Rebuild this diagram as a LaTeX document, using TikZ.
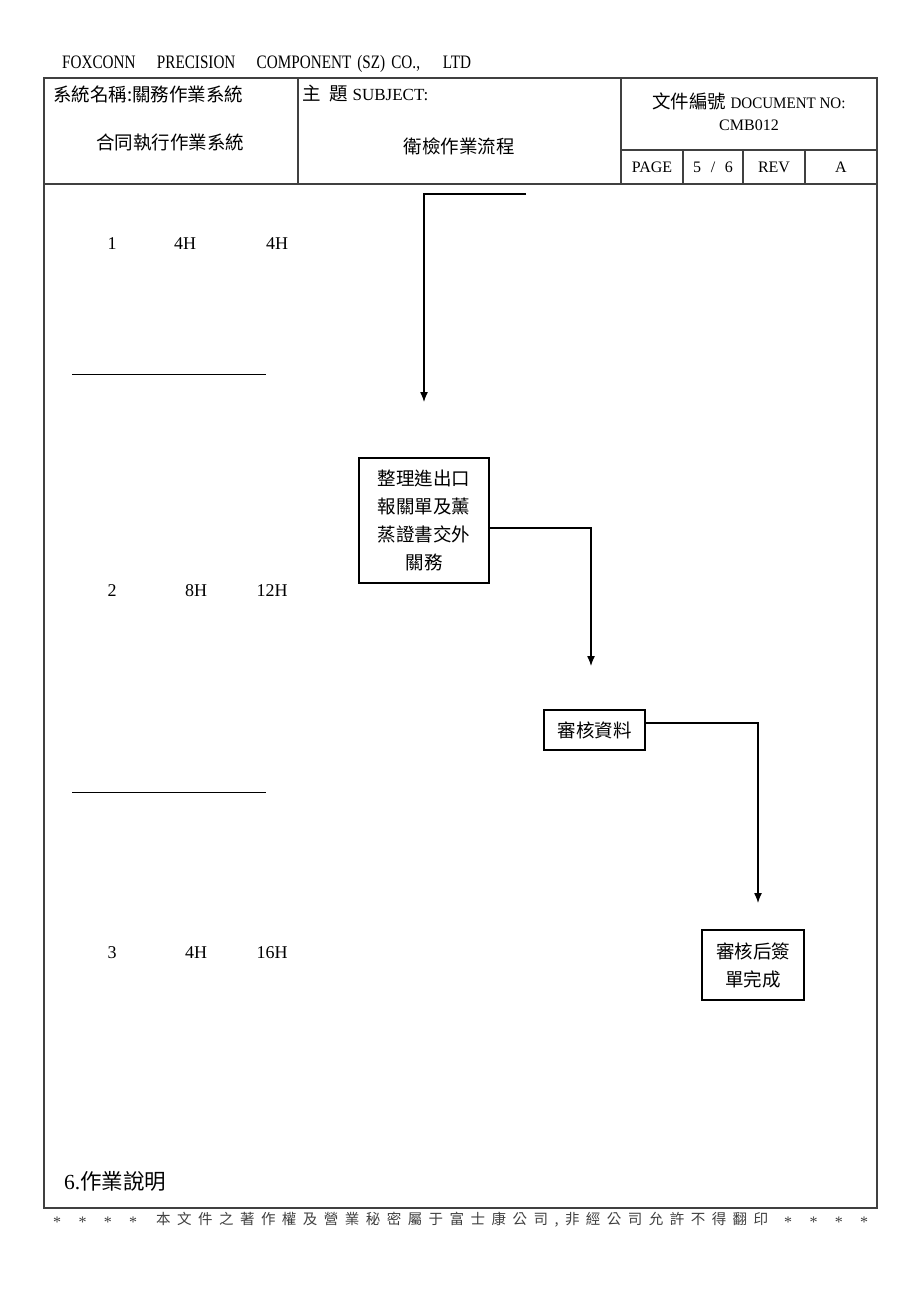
\documentclass[tikz,border=0pt]{standalone}
\usepackage{fontspec}
\setmainfont{Liberation Serif}
\newfontfamily\cjk{Noto Sans CJK TC}
\usetikzlibrary{arrows.meta}
\tikzset{
  frame/.style={draw=black!75, line width=1.2pt},
  flowbox/.style={draw=black, line width=1.2pt, inner sep=0pt, align=center, font=\cjk\fontsize{18.5}{28}\selectfont},
  conn/.style={draw=black, line width=1.3pt},
  arr/.style={conn, -{Latex[length=10pt,width=8pt]}},
  hdr/.style={font=\fontsize{16}{19}\selectfont, inner sep=0pt},
  hdrc/.style={font=\cjk\fontsize{18.5}{20}\selectfont, inner sep=0pt},
  lbl/.style={font=\fontsize{18}{20}\selectfont, inner sep=0pt},
  foot/.style={anchor=west, inner sep=0pt, text=black!75},
}
\begin{document}
\begin{tikzpicture}[x=1pt,y=-1pt]
\useasboundingbox (0,0) rectangle (920,1302);
\fill[white] (0,0) rectangle (920,1302);
% header line
\node[anchor=west, inner sep=0pt] (company) at (62,64) {\scalebox{0.8}[1]{\fontsize{19}{22}\selectfont FOXCONN\hspace{1.4em}PRECISION\hspace{1.4em}COMPONENT\hspace{0.4em}(SZ)\hspace{0.4em}CO.,\hspace{1.5em}LTD}};
% frame and title block
\draw[frame] (44,78) rectangle (877,1208);
\draw[frame] (44,184) -- (877,184);
\draw[frame] (298,78) -- (298,184);
\draw[frame] (621,78) -- (621,184);
\draw[frame] (621,150) -- (877,150);
\draw[frame] (683,150) -- (683,184);
\draw[frame] (743,150) -- (743,184);
\draw[frame] (805,150) -- (805,184);
\node[hdrc, anchor=west] (sysname) at (53,94) {系統名稱:關務作業系統};
\node[hdrc] (sysname2) at (170,142) {合同執行作業系統};
\node[hdrc, anchor=west] (subj) at (302,94) {主\hspace{0.5em}題 {\fontsize{17}{19}\rmfamily SUBJECT:}};
\node[hdrc] (subj2) at (459,146) {衛檢作業流程};
\node[hdrc] (docno) at (749,101) {文件編號 {\fontsize{16}{19}\rmfamily\scalebox{0.94}[1]{DOCUMENT NO:}}};
\node[hdr] (docno2) at (749,125) {CMB012};
\node[hdr] (page) at (652,167) {PAGE};
\node[hdr] (pnum) at (713,167) {5\hspace{0.6em}/\hspace{0.6em}6};
\node[hdr] (rev) at (774,167) {REV};
\node[hdr] (reva) at (841,167) {A};
% row labels
\node[lbl] (r1a) at (112,244) {1};
\node[lbl] (r1b) at (185,244) {4H};
\node[lbl] (r1c) at (277,244) {4H};
\node[lbl] (r2a) at (112,591) {2};
\node[lbl] (r2b) at (196,591) {8H};
\node[lbl] (r2c) at (272,591) {12H};
\node[lbl] (r3a) at (112,953) {3};
\node[lbl] (r3b) at (196,953) {4H};
\node[lbl] (r3c) at (272,953) {16H};
\draw[line width=1pt] (72,374) -- (266,374);
\draw[line width=1pt] (72,792) -- (266,792);
% flow
\coordinate (s0) at (526,194);
\coordinate (t0) at (424,402);
\draw[arr] (s0) -- (s0 -| t0) -- (t0);
\node[flowbox, minimum width=130pt, minimum height=125pt] (b1) at (424,520.5) {整理進出口\\報關單及薰\\蒸證書交外\\關務};
\coordinate (t1) at (591,666);
\draw[arr] ([yshift=-7.5pt]b1.east) -| (t1);
\node[flowbox, minimum width=101pt, minimum height=40pt] (b2) at (594.5,730) {審核資料};
\coordinate (t2) at (758,903);
\draw[arr] ([yshift=7pt]b2.east) -| (t2);
\node[flowbox, minimum width=102pt, minimum height=70pt] (b3) at (753,965) {審核后簽\\單完成};
% bottom
\node[anchor=west, inner sep=0pt] (note) at (64,1181) {\fontsize{21.5}{24}\selectfont 6.{\cjk 作業說明}};
\node[foot, font=\fontsize{16}{16}\selectfont] (foot1) at (53,1222) {\makebox[84pt]{*\hfill *\hfill *\hfill *}};
\node[foot, font=\cjk\fontsize{14.5}{15}\selectfont] (foot2) at (156,1220) {\makebox[612pt]{本\hfill 文\hfill 件\hfill 之\hfill 著\hfill 作\hfill 權\hfill 及\hfill 營\hfill 業\hfill 秘\hfill 密\hfill 屬\hfill 于\hfill 富\hfill 士\hfill 康\hfill 公\hfill 司\hfill ,\hfill 非\hfill 經\hfill 公\hfill 司\hfill 允\hfill 許\hfill 不\hfill 得\hfill 翻\hfill 印}};
\node[foot, font=\fontsize{16}{16}\selectfont] (foot3) at (784,1222) {\makebox[84pt]{*\hfill *\hfill *\hfill *}};
\end{tikzpicture}
\end{document}
